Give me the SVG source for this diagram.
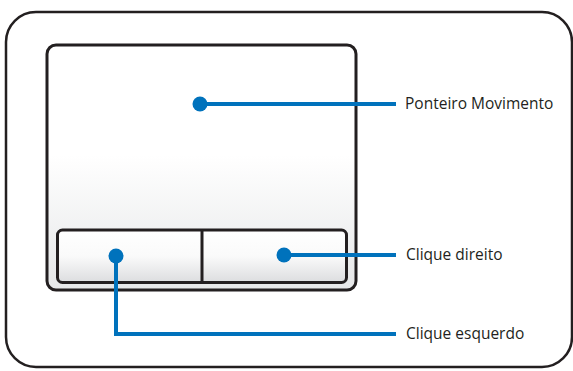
<svg xmlns="http://www.w3.org/2000/svg" width="573" height="371" viewBox="0 0 573 371">
<defs>
<linearGradient id="padGrad" x1="0" y1="0" x2="0" y2="1">
<stop offset="0" stop-color="#ffffff"/>
<stop offset="0.45" stop-color="#ffffff"/>
<stop offset="1" stop-color="#e6e7e8"/>
</linearGradient>
<linearGradient id="btnGrad" x1="0" y1="0" x2="0" y2="1">
<stop offset="0" stop-color="#ffffff"/>
<stop offset="0.5" stop-color="#fafafa"/>
<stop offset="1" stop-color="#dcdddf"/>
</linearGradient>
</defs>
<style>
.frame{fill:#ffffff;stroke:#231f20;stroke-width:2.5}
.pad{fill:url(#padGrad);stroke:#231f20;stroke-width:3}
.btn{fill:url(#btnGrad);stroke:#231f20;stroke-width:3}
.div{stroke:#231f20;stroke-width:3}
.conn{fill:none;stroke:#0072bc;stroke-width:4}
.dot{fill:#0072bc}
.lbl{font-family:"Open Sans","Liberation Sans",sans-serif;font-size:15.5px;fill:#231f20}
</style>
<rect class="frame" x="6" y="12" width="566" height="355" rx="30" ry="30"/>
<g id="touchpad">
<rect class="pad" x="47" y="45" width="309" height="245" rx="9" ry="9"/>
</g>
<g id="buttons">
<rect class="btn" x="57.5" y="230" width="289" height="52.5" rx="5" ry="5"/>
<line class="div" x1="202" y1="230" x2="202" y2="282.5"/>
</g>
<g id="connectors">
<line class="conn" x1="200" y1="104" x2="396" y2="104"/>
<line class="conn" x1="284" y1="255" x2="396" y2="255"/>
<polyline class="conn" points="116,256 116,334 396,334"/>
<circle class="dot" cx="200" cy="104" r="7.5"/>
<circle class="dot" cx="284" cy="255" r="7.5"/>
<circle class="dot" cx="116" cy="256" r="7.5"/>
</g>
<g id="label-pointer"><text class="lbl" x="405" y="108.5">Ponteiro Movimento</text></g>
<g id="label-right"><text class="lbl" x="406" y="260">Clique direito</text></g>
<g id="label-left"><text class="lbl" x="406" y="339">Clique esquerdo</text></g>
</svg>
